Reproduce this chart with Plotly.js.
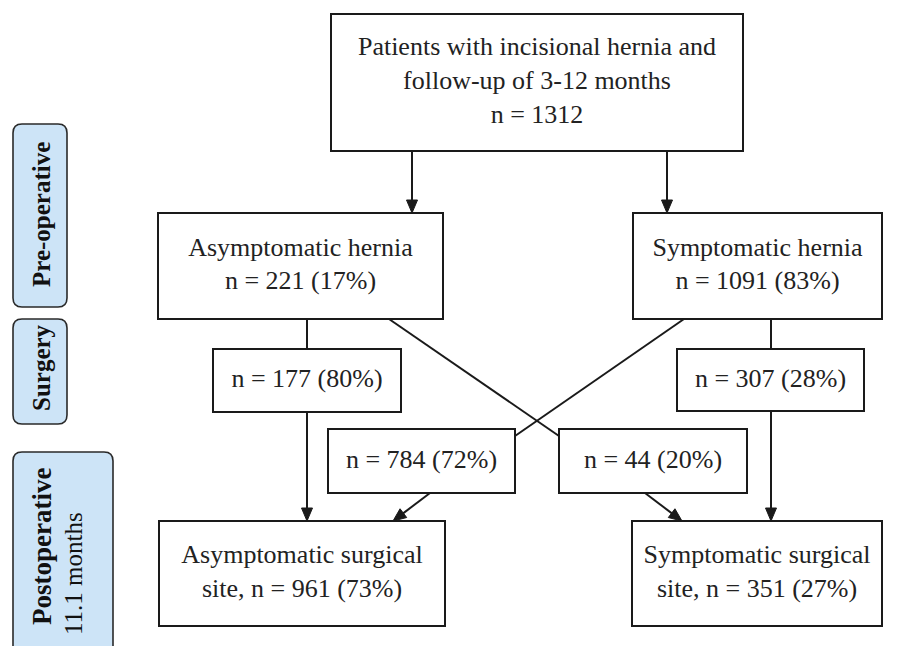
<!DOCTYPE html>
<html>
<head>
<meta charset="utf-8">
<script src="https://cdn.plot.ly/plotly-3.0.1.min.js"></script>
</head>
<body style="margin:0">
<div id="chart"></div>
<script>
// ---- data ----
const nodeNames = [
  'Patients with incisional hernia and<br>follow-up of 3-12 months',
  'Asymptomatic hernia',
  'Symptomatic hernia',
  '', '', '', '',
  'Asymptomatic surgical<br>site,',
  'Symptomatic surgical<br>site,'
];
const nodeCounts = [1312, 221, 1091, 177, 307, 784, 44, 961, 351];
const nodePercents = [null, 17, 83, 80, 28, 72, 20, 73, 27];
const stageLabels = ['Pre-operative', 'Surgery', 'Postoperative'];
const stageSubLabels = ['', '', '11.1 months'];

// ---- layout geometry (pixels) ----
const boxes = [
  [331, 14, 743, 151],   // top
  [158, 213, 443, 319],  // asym hernia
  [633, 213, 882, 319],  // sym hernia
  [213, 349, 401, 412],  // 177
  [677, 349, 864, 411],  // 307
  [328, 429, 515, 493],  // 784
  [559, 429, 747, 493],  // 44
  [159, 521, 445, 626],  // asym surgical
  [632, 521, 882, 626]   // sym surgical
];
const stageBoxes = [
  [13, 124, 67, 307],
  [13, 319, 67, 424],
  [13, 452, 113, 665]
];
const plainLines = [
  [307, 319, 307, 349],
  [771, 319, 771, 349],
  [389, 319, 559, 436],
  [684, 319, 515, 436]
];
const arrows = [
  [412, 151, 412, 213],
  [667, 151, 667, 213],
  [307, 412, 307, 521],
  [771, 411, 771, 521],
  [430, 493, 393, 521],
  [645, 493, 682, 521]
];

const FAM = 'Times New Roman';
const INK = '#1a1a1a';
const shapes = [];
const annotations = [];
const tx = [], ty = [], tt = [];

boxes.forEach((b, i) => {
  shapes.push({type: 'rect', xref: 'x', yref: 'y', x0: b[0], y0: b[1], x1: b[2], y1: b[3],
    line: {color: INK, width: 2}, fillcolor: 'rgba(0,0,0,0)'});
  const nPart = 'n = ' + nodeCounts[i] + (nodePercents[i] !== null ? ' (' + nodePercents[i] + '%)' : '');
  let txt;
  if (nodeNames[i] === '') txt = nPart;
  else if (i >= 7) txt = nodeNames[i] + ' ' + nPart;
  else txt = nodeNames[i] + '<br>' + nPart;
  tx.push((b[0] + b[2]) / 2);
  ty.push((b[1] + b[3]) / 2);
  tt.push(txt);
});

function rounded(b, r) {
  const [x0, y0, x1, y1] = b;
  return `M${x0 + r},${y0} L${x1 - r},${y0} Q${x1},${y0} ${x1},${y0 + r} L${x1},${y1 - r} Q${x1},${y1} ${x1 - r},${y1} L${x0 + r},${y1} Q${x0},${y1} ${x0},${y1 - r} L${x0},${y0 + r} Q${x0},${y0} ${x0 + r},${y0} Z`;
}
stageBoxes.forEach((b) => {
  shapes.push({type: 'path', xref: 'x', yref: 'y', path: rounded(b, 9),
    line: {color: '#2a2a2a', width: 1.6}, fillcolor: '#cde4f7'});
});
annotations.push({x: 41, y: 215, xref: 'x', yref: 'y', text: '<b>' + stageLabels[0] + '</b>', textangle: -90,
  showarrow: false, font: {family: FAM, size: 25, color: '#111111'}});
annotations.push({x: 41, y: 368, xref: 'x', yref: 'y', text: '<b>' + stageLabels[1] + '</b>', textangle: -90,
  showarrow: false, font: {family: FAM, size: 25, color: '#111111'}});
annotations.push({x: 42, y: 547, xref: 'x', yref: 'y', text: '<b>' + stageLabels[2] + '</b>', textangle: -90,
  showarrow: false, font: {family: FAM, size: 27, color: '#111111'}});
annotations.push({x: 73, y: 574, xref: 'x', yref: 'y', text: stageSubLabels[2], textangle: -90,
  showarrow: false, font: {family: FAM, size: 25, color: '#111111'}});

plainLines.forEach(l => {
  shapes.push({type: 'line', xref: 'x', yref: 'y', x0: l[0], y0: l[1], x1: l[2], y1: l[3],
    line: {color: INK, width: 2}});
});

arrows.forEach(a => {
  const [sx, sy, ex, ey] = a;
  const dx = ex - sx, dy = ey - sy, len = Math.hypot(dx, dy);
  const ux = dx / len, uy = dy / len;
  const hl = 13, hw = 5.5;
  const bx = ex - ux * hl, by = ey - uy * hl;
  const px = -uy, py = ux;
  shapes.push({type: 'line', xref: 'x', yref: 'y', x0: sx, y0: sy, x1: bx + ux * 2, y1: by + uy * 2,
    line: {color: INK, width: 2}});
  shapes.push({type: 'path', xref: 'x', yref: 'y',
    path: `M${ex},${ey} L${bx + px * hw},${by + py * hw} L${bx - px * hw},${by - py * hw} Z`,
    fillcolor: INK, line: {color: INK, width: 1}});
});

const textTrace = {
  x: tx, y: ty, text: tt, type: 'scatter', mode: 'text',
  textposition: 'middle center', hoverinfo: 'skip',
  textfont: {family: FAM, size: 26, color: '#222222'}
};

const layout = {
  width: 908, height: 646,
  margin: {l: 0, r: 0, t: 0, b: 0},
  font: {family: FAM, color: '#222222'},
  xaxis: {range: [0, 908], visible: false},
  yaxis: {range: [646, 0], visible: false},
  showlegend: false,
  shapes: shapes,
  annotations: annotations
};
Plotly.newPlot('chart', [textTrace], layout, {displayModeBar: false});
</script>
</body>
</html>
